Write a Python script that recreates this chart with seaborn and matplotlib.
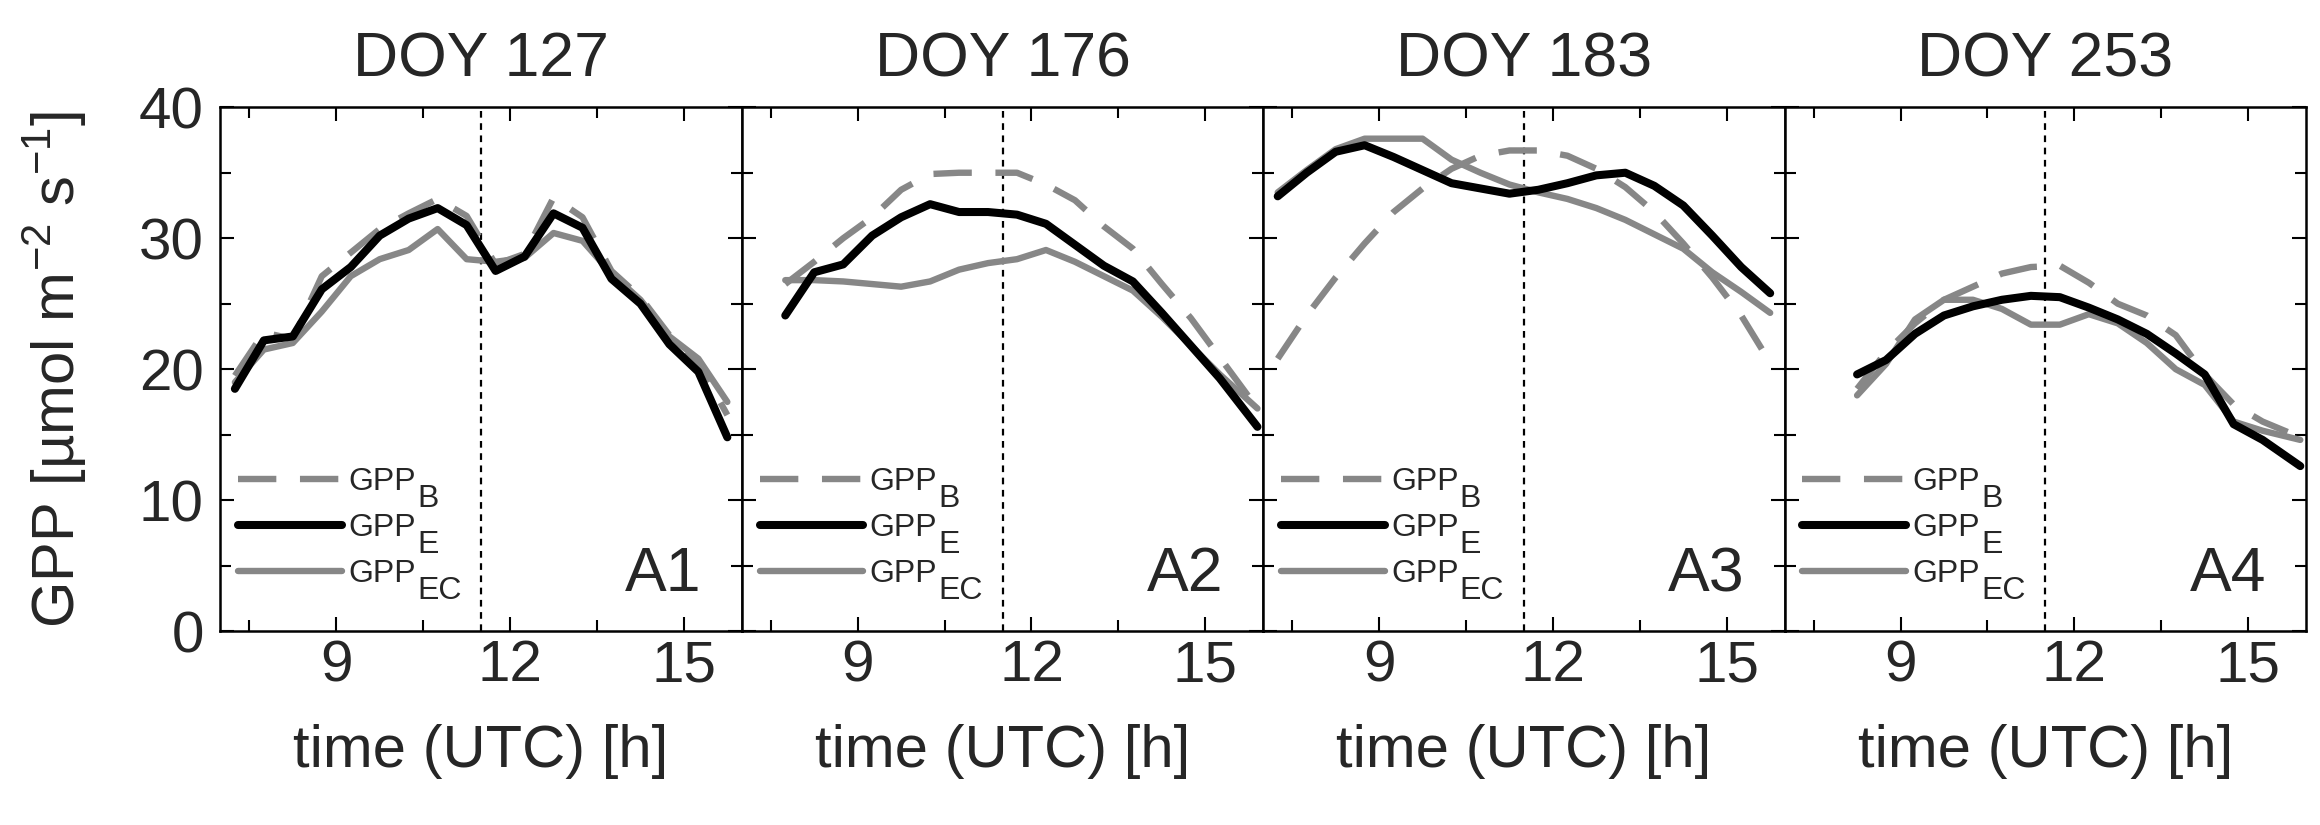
import numpy as np
import pandas as pd
import matplotlib
matplotlib.use("Agg")
import matplotlib.pyplot as plt
from matplotlib.ticker import MultipleLocator
from matplotlib.transforms import IdentityTransform
import seaborn as sns

# day titles and panel tags
days = ["DOY 127", "DOY 176", "DOY 183", "DOY 253"]
tags = ["A1", "A2", "A3", "A4"]

# time axes (UTC hours)
t1 = [7.25, 7.75, 8.25, 8.75, 9.25, 9.75, 10.25, 10.75, 11.25, 11.75,
      12.25, 12.75, 13.25, 13.75, 14.25, 14.75, 15.25, 15.75]
t2 = [7.75, 8.25, 8.75, 9.25, 9.75, 10.25, 10.75, 11.25, 11.75,
      12.25, 12.75, 13.25, 13.75, 14.25, 14.75, 15.25, 15.9]
t3 = [7.25, 7.75, 8.25, 8.75, 9.25, 9.75, 10.25, 10.75, 11.25, 11.75,
      12.25, 12.75, 13.25, 13.75, 14.25, 14.75, 15.25, 15.75]
t4 = [8.25, 8.75, 9.25, 9.75, 10.25, 10.75, 11.25, 11.75,
      12.25, 12.75, 13.25, 13.75, 14.25, 14.75, 15.25, 15.9]

# GPP_B (dashed grey)
gpp_b1 = [19.5, 22.8, 22.3, 27.1, 28.9, 30.7, 31.9, 33.0, 31.7, 28.0,
          28.8, 33.1, 31.6, 27.5, 25.5, 22.6, 20.5, 16.5]
gpp_b2 = [26.5, 28.2, 30.0, 31.6, 33.7, 34.9, 35.0, 35.0, 35.0,
          34.1, 32.9, 30.9, 29.2, 26.5, 23.9, 20.9, 17.0]
gpp_b3 = [20.8, 24.1, 27.0, 29.6, 32.0, 33.8, 35.3, 36.3, 36.7, 36.7,
          36.3, 35.3, 33.9, 32.0, 29.6, 27.0, 24.1, 20.5]
gpp_b4 = [18.5, 21.3, 23.5, 25.3, 26.3, 27.3, 27.8, 27.9,
          26.6, 25.0, 24.1, 22.6, 19.6, 17.3, 16.0, 14.8]

# GPP_E (black)
gpp_e1 = [18.5, 22.2, 22.5, 26.1, 27.8, 30.2, 31.5, 32.3, 31.0, 27.5,
          28.6, 31.9, 30.8, 26.9, 25.0, 21.9, 19.8, 14.8]
gpp_e2 = [24.1, 27.4, 28.0, 30.2, 31.6, 32.6, 32.0, 32.0, 31.8,
          31.1, 29.5, 27.9, 26.7, 24.3, 21.8, 19.3, 15.6]
gpp_e3 = [33.2, 35.0, 36.6, 37.1, 36.2, 35.2, 34.2, 33.8, 33.4, 33.7,
          34.2, 34.8, 35.0, 34.0, 32.5, 30.2, 27.8, 25.8]
gpp_e4 = [19.6, 20.7, 22.7, 24.1, 24.8, 25.3, 25.6, 25.5,
          24.7, 23.8, 22.7, 21.2, 19.6, 15.8, 14.6, 12.6]

# GPP_EC (solid grey)
gpp_ec1 = [19.0, 21.5, 22.0, 24.4, 27.1, 28.4, 29.1, 30.7, 28.4, 28.2,
           28.5, 30.4, 29.8, 27.3, 25.3, 22.5, 20.8, 17.5]
gpp_ec2 = [26.8, 26.8, 26.7, 26.5, 26.3, 26.7, 27.6, 28.1, 28.4,
           29.1, 28.2, 27.1, 26.0, 24.0, 21.8, 19.6, 17.0]
gpp_ec3 = [33.5, 35.2, 36.8, 37.6, 37.6, 37.6, 36.0, 35.0, 34.1, 33.5,
           33.0, 32.3, 31.4, 30.3, 29.2, 27.4, 25.9, 24.3]
gpp_ec4 = [18.0, 20.4, 23.8, 25.3, 25.3, 24.6, 23.4, 23.4,
           24.2, 23.5, 22.0, 20.0, 18.8, 16.0, 15.3, 14.6]

noon = 11.5
subs = ["B", "E", "EC"]

times = [t1, t2, t3, t4]
gpp_b = [gpp_b1, gpp_b2, gpp_b3, gpp_b4]
gpp_e = [gpp_e1, gpp_e2, gpp_e3, gpp_e4]
gpp_ec = [gpp_ec1, gpp_ec2, gpp_ec3, gpp_ec4]

sns.set_style("ticks")
plt.rcParams["font.family"] = ["Liberation Sans", "DejaVu Sans"]
plt.rcParams["mathtext.fontset"] = "custom"
plt.rcParams["mathtext.rm"] = "Liberation Sans"

grey = "#878787"

fig, axes = plt.subplots(1, 4, figsize=(23.2, 8.25), dpi=100, sharey=True)
fig.subplots_adjust(left=0.095, right=0.994, top=0.870, bottom=0.235, wspace=0)

legends = []
for i, ax in enumerate(axes):
    df = pd.DataFrame({"t": times[i], "B": gpp_b[i], "E": gpp_e[i], "EC": gpp_ec[i]})
    sns.lineplot(data=df, x="t", y="B", ax=ax, color=grey, lw=4.6,
                 linestyle=(0, (6, 3.7)), estimator=None, label="GPP")
    sns.lineplot(data=df, x="t", y="EC", ax=ax, color=grey, lw=4.6,
                 estimator=None, label="GPP", zorder=2)
    sns.lineplot(data=df, x="t", y="E", ax=ax, color="black", lw=5.8,
                 estimator=None, label="GPP", zorder=3)
    ax.axvline(noon, color="black", lw=1.6, linestyle=(0, (3, 2.5)), zorder=1)

    ax.set_xlim(7, 16)
    ax.set_ylim(0, 40)
    ax.xaxis.set_major_locator(MultipleLocator(3))
    ax.xaxis.set_minor_locator(MultipleLocator(1.5))
    ax.yaxis.set_major_locator(MultipleLocator(10))
    ax.yaxis.set_minor_locator(MultipleLocator(5))
    ax.tick_params(which="both", direction="in", top=True, right=True,
                   width=1.5, labelsize=42, color="black")
    ax.tick_params(which="major", length=10)
    ax.tick_params(which="minor", length=8)
    ax.tick_params(axis="x", pad=6)
    ax.tick_params(axis="y", pad=12)
    for s in ax.spines.values():
        s.set_linewidth(1.8)
        s.set_color("black")

    ax.set_title(days[i], fontsize=45, pad=22)
    ax.set_xlabel("time (UTC) [h]", fontsize=43, labelpad=22)
    ax.set_ylabel("")
    ax.text(0.923, 0.076, tags[i], transform=ax.transAxes, ha="right",
            va="baseline", fontsize=45)

    h, l = ax.get_legend_handles_labels()
    order = [0, 2, 1]
    leg = ax.legend([h[k] for k in order], [l[k] for k in order], loc="lower left",
                    bbox_to_anchor=(0.034, 0.08), frameon=False, fontsize=23,
                    handlelength=3.25, handletextpad=0.2, labelspacing=0.5,
                    borderaxespad=0, borderpad=0)
    legends.append(leg)

axes[0].set_ylabel(r"GPP [µmol m$^\mathregular{-2}$ s$^\mathregular{-1}$]",
                   fontsize=43, labelpad=36)

# full-size, lowered subscripts next to the legend texts
fig.canvas.draw()
for leg in legends:
    for txt, sub in zip(leg.get_texts(), subs):
        bb = txt.get_window_extent()
        fig.text(bb.x1 + 1, bb.y0 - 17, sub, transform=IdentityTransform(),
                 fontsize=23, ha="left", va="bottom")

fig.savefig("out.png", dpi=100)
